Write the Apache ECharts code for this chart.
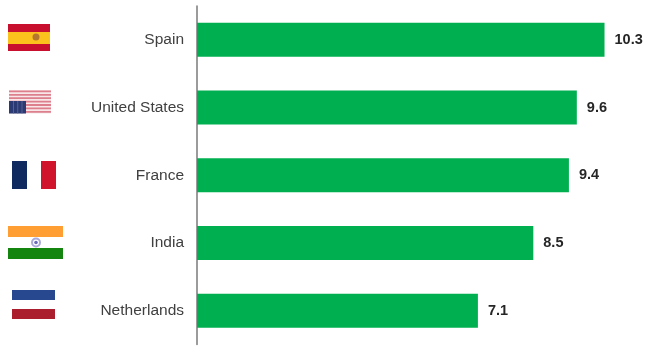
<!DOCTYPE html>
<html>
<head>
<meta charset="utf-8">
<style>html,body{margin:0;padding:0;background:#fff}#chart{width:652px;height:347px}</style>
<script src="https://cdn.jsdelivr.net/npm/echarts@6/dist/echarts.min.js"></script>
</head>
<body>
<div id="chart"></div>
<script>
const countries = ['Spain', 'United States', 'France', 'India', 'Netherlands'];
const scores = [10.3, 9.6, 9.4, 8.5, 7.1];

const rect = (x, y, width, height, fill) => ({ type: 'rect', shape: { x, y, width, height }, style: { fill }, silent: true });

// Stars and Stripes: pale field, darker stripes, then the canton with its grid of stars
function usFlag() {
  const parts = [rect(9, 90, 42, 23.5, '#f8e6e8')];
  for (let i = 0; i < 7; i++) {
    parts.push(rect(9, 90.5 + i * 3.4, 42, 1.8, '#dd7f8c'));
  }
  parts.push(rect(9, 101, 17, 12.5, '#2b3a73'));
  for (let i = 1; i < 4; i++) {
    parts.push(rect(9 + i * 4.2, 101, 0.8, 12.5, '#5f6b9c'));
  }
  return parts;
}

const flags = [
  rect(8, 24, 42, 8, '#c8102e'),
  rect(8, 32, 42, 12, '#fbc11c'),
  rect(8, 44, 42, 7, '#c8102e'),
  { type: 'circle', shape: { cx: 36, cy: 37, r: 3.5 }, style: { fill: '#b5762f' }, silent: true },
  ...usFlag(),
  rect(12, 161, 15, 28, '#0f2a5f'),
  rect(41, 161, 15, 28, '#d0142c'),
  rect(8, 226, 55, 11, '#ff9f33'),
  rect(8, 248, 55, 11, '#14860f'),
  { type: 'ring', shape: { cx: 36, cy: 242.5, r: 5, r0: 3 }, style: { fill: '#a9a9dc' }, silent: true },
  { type: 'circle', shape: { cx: 36, cy: 242.5, r: 1.8 }, style: { fill: '#6b6bbd' }, silent: true },
  rect(12, 290, 43, 10, '#27478f'),
  rect(12, 309, 43, 10, '#ab1e2e')
];

const chart = echarts.init(document.getElementById('chart'), null, { renderer: 'canvas' });
chart.setOption({
  animation: false,
  backgroundColor: '#ffffff',
  grid: { left: 197, top: 6, width: 455.4, height: 338.5 },
  xAxis: { type: 'value', min: 0, max: 11.5, show: false },
  yAxis: {
    type: 'category',
    inverse: true,
    data: countries,
    axisLine: { lineStyle: { color: '#7a7a7a', width: 1.5 } },
    axisTick: { show: false },
    axisLabel: { color: '#404040', fontFamily: 'Liberation Sans', fontSize: 15.5, margin: 13, padding: [2, 0, 0, 0] }
  },
  series: [{
    type: 'bar',
    data: scores,
    barWidth: 34,
    itemStyle: { color: '#00b050' },
    label: {
      show: true,
      position: 'right',
      distance: 10,
      padding: [2, 0, 0, 0],
      formatter: p => p.value.toFixed(1),
      color: '#262626',
      fontFamily: 'Liberation Sans',
      fontWeight: 'bold',
      fontSize: 14.5
    }
  }],
  graphic: flags
});
</script>
</body>
</html>
